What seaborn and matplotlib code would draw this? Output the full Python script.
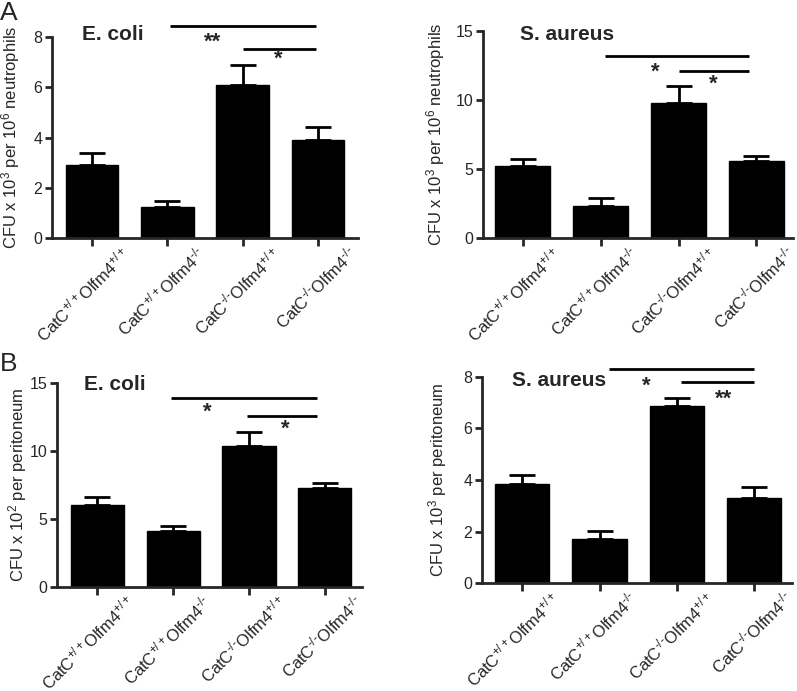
import matplotlib
matplotlib.use("Agg")
import matplotlib.pyplot as plt
import matplotlib.transforms as mtransforms
import seaborn as sns
import numpy as np
import pandas as pd

sns.set_style("ticks")
plt.rcParams['font.family'] = ['Liberation Sans', 'DejaVu Sans']
plt.rcParams['mathtext.fontset'] = 'custom'
plt.rcParams['mathtext.rm'] = 'Liberation Sans'
plt.rcParams['mathtext.it'] = 'Liberation Sans:italic'
plt.rcParams['mathtext.bf'] = 'Liberation Sans:bold'

# ---- data ----
categories = [r"$\mathregular{CatC^{+/+}Olfm4^{+/+}}$",
              r"$\mathregular{CatC^{+/+}Olfm4^{\text{-/-}}}$",
              r"$\mathregular{CatC^{\text{-/-}}Olfm4^{+/+}}$",
              r"$\mathregular{CatC^{\text{-/-}}Olfm4^{\text{-/-}}}$"]

a_ecoli_mean = [2.9, 1.25, 6.1, 3.9]
a_ecoli_sem = [0.5, 0.25, 0.77, 0.5]
a_saureus_mean = [5.2, 2.35, 9.8, 5.55]
a_saureus_sem = [0.5, 0.52, 1.2, 0.38]
b_ecoli_mean = [6.0, 4.1, 10.4, 7.25]
b_ecoli_sem = [0.65, 0.4, 1.0, 0.42]
b_saureus_mean = [3.85, 1.72, 6.85, 3.32]
b_saureus_sem = [0.35, 0.3, 0.32, 0.4]

a_ecoli_ticks = [0, 2, 4, 6, 8]
a_saureus_ticks = [0, 5, 10, 15]
b_ecoli_ticks = [0, 5, 10, 15]
b_saureus_ticks = [0, 2, 4, 6, 8]

ylabels = ["CFU x 10$^3$ per 10$^6$ neutrophils", "CFU x 10$^3$ per 10$^6$ neutrophils",
           "CFU x 10$^2$ per peritoneum", "CFU x 10$^3$ per peritoneum"]
titles = ["E. coli", "S. aureus", "E. coli", "S. aureus"]

# significance: (x1, x2, line_y, star_text, star_x, star_y)
a_ecoli_sig = [(1.03, 2.97, 8.44, "**", 1.6, 7.8), (2.0, 2.97, 7.5, "*", 2.47, 7.1)]
a_saureus_sig = [(1.06, 2.9, 13.2, "*", 1.7, 12.0), (2.0, 2.9, 12.08, "*", 2.45, 11.1)]
b_ecoli_sig = [(0.97, 2.9, 13.94, "*", 1.45, 12.9), (1.97, 2.9, 12.59, "*", 2.48, 11.6)]
b_saureus_sig = [(1.12, 3.0, 8.29, "*", 1.6, 7.65), (2.05, 3.0, 7.78, "**", 2.6, 7.12)]

fig = plt.figure(figsize=(7.97, 6.91), dpi=100)
W, H = 797.0, 691.0

panels = [
    (52, 358, 36.7, 238.3, (-0.53, 3.53), a_ecoli_mean, a_ecoli_sem, a_ecoli_ticks, 8, a_ecoli_sig, (-0.13, 8.07), -0.098),
    (483, 793, 30.7, 238.0, (-0.51, 3.47), a_saureus_mean, a_saureus_sem, a_saureus_ticks, 15, a_saureus_sig, (-0.04, 14.7), -0.115),
    (57, 362, 383.3, 586.7, (-0.53, 3.49), b_ecoli_mean, b_ecoli_sem, b_ecoli_ticks, 15, b_ecoli_sig, (-0.18, 14.9), -0.092),
    (482, 792, 376.7, 583.3, (-0.52, 3.49), b_saureus_mean, b_saureus_sem, b_saureus_ticks, 8, b_saureus_sig, (-0.13, 7.85), -0.105),
]

for i, (l, r, t, b, xlim, means, sems, ticks, ymax, sig, txy, labx) in enumerate(panels):
    ax = fig.add_axes([l / W, 1 - b / H, (r - l) / W, (b - t) / H])
    df = pd.DataFrame({"group": categories, "value": means})
    sns.barplot(data=df, x="group", y="value", color="black", width=0.7,
                errorbar=None, ax=ax, saturation=1, edgecolor="black")
    xs = np.arange(len(means))
    ax.errorbar(xs, means, yerr=[np.zeros(len(sems)), sems], fmt="none",
                ecolor="black", elinewidth=2, capsize=9.5, capthick=2)
    ax.set_xlim(*xlim)
    ax.set_ylim(0, ymax)
    ax.set_yticks(ticks)
    ax.set_xlabel("")
    ax.set_ylabel(ylabels[i], fontsize=12)
    ax.yaxis.set_label_coords(labx, 0.5)
    sns.despine(ax=ax)
    for s in ["left", "bottom"]:
        ax.spines[s].set_linewidth(2)
    ax.tick_params(axis="y", width=2, length=5, labelsize=11.5, pad=2)
    ax.tick_params(axis="x", width=2, length=6, labelsize=12, pad=2)
    ax.set_xticks(xs)
    ax.set_xticklabels(categories, rotation=45, ha="right", va="top",
                       rotation_mode="anchor")
    offset = mtransforms.ScaledTranslation(0.28, 0.06, fig.dpi_scale_trans)
    for lab in ax.get_xticklabels():
        lab.set_transform(lab.get_transform() + offset)
    ax.text(txy[0], txy[1], titles[i], fontsize=15, fontweight="bold",
            ha="left", va="center")
    for (x1, x2, ly, st, sx, sy) in sig:
        ax.plot([x1, x2], [ly, ly], color="black", lw=2, clip_on=False,
                solid_capstyle="butt")
        ax.text(sx, sy, st, fontsize=16, fontweight="bold", ha="center",
                va="center", clip_on=False)

fig.text(0.0, 1 - 1 / H, "A", fontsize=19, ha="left", va="top")
fig.text(0.0, 1 - 352 / H, "B", fontsize=19, ha="left", va="top")

fig.savefig("out.png", dpi=100)
